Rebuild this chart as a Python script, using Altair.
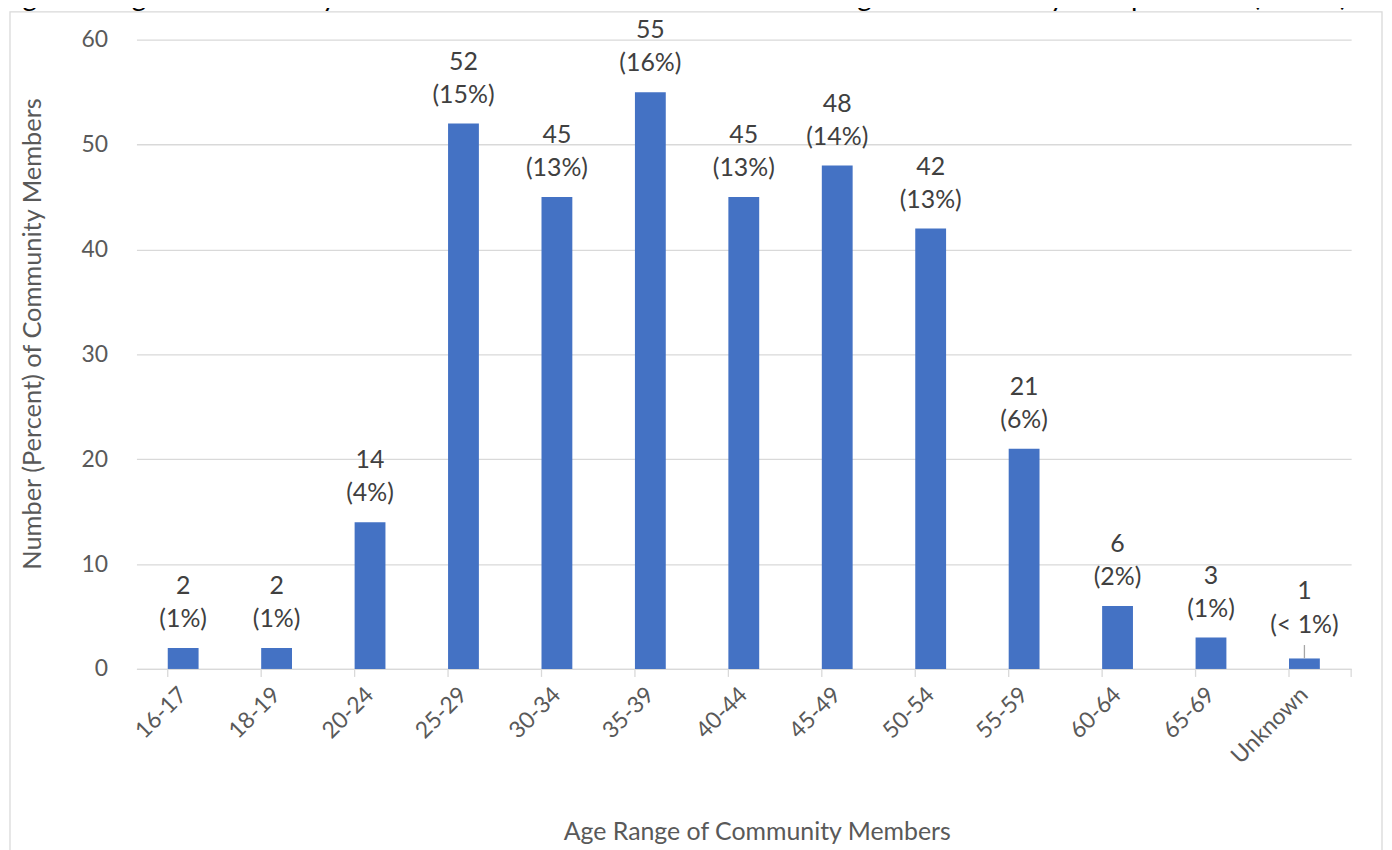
import altair as alt
import pandas as pd

categories = ["16-17", "18-19", "20-24", "25-29", "30-34", "35-39", "40-44",
              "45-49", "50-54", "55-59", "60-64", "65-69", "Unknown"]
counts = [2, 2, 14, 52, 45, 55, 45, 48, 42, 21, 6, 3, 1]
percents = ["(1%)", "(1%)", "(4%)", "(15%)", "(13%)", "(16%)", "(13%)",
            "(14%)", "(13%)", "(6%)", "(2%)", "(1%)", "(< 1%)"]
y_ticks = [0, 10, 20, 30, 40, 50, 60]
title_text = ("Figure 2. Age of community members who visited the BSCS OCS "
              "during the first 60 days of operations (n=336)")

df = pd.DataFrame({"age": categories, "count": counts, "pct": percents})

FONT = "Lato"
W, H = 1220, 632
LABEL_C = "#595959"
VAL_C = "#404040"
GRID_C = "#D9D9D9"

x_scale = alt.Scale(domain=categories, paddingInner=0.67, paddingOuter=0.335)
y_scale = alt.Scale(domain=[0, 60], nice=False)

base = alt.Chart(df)
X = alt.X("age:N", scale=x_scale, sort=categories)
Y = alt.Y("count:Q", scale=y_scale)

bars = base.mark_bar(color="#4472C4").encode(
    x=alt.X("age:N", scale=x_scale, sort=categories,
            axis=alt.Axis(title="Age Range of Community Members",
                          labelAngle=-45, labelAlign="right", labelBaseline="middle",
                          labelPadding=22, labelFontSize=23, labelColor=LABEL_C,
                          labelFont=FONT, ticks=False, domain=True, domainColor=GRID_C,
                          domainWidth=1.3, grid=False,
                          titleFont=FONT, titleFontSize=25, titleColor=LABEL_C,
                          titleFontWeight="normal", titleX=623, titleY=171,
                          titleBaseline="alphabetic", titleAlign="center")),
    y=alt.Y("count:Q", scale=y_scale,
            axis=alt.Axis(title="Number (Percent) of Community Members",
                          values=y_ticks, labelFontSize=23, labelColor=LABEL_C,
                          labelFont=FONT, labelPadding=29, ticks=False, domain=False,
                          grid=True, gridColor=GRID_C, gridWidth=1.3,
                          titleFont=FONT, titleFontSize=25.5, titleColor=LABEL_C,
                          titleFontWeight="normal", titleX=-104, titleY=295,
                          titleAngle=-90, titleBaseline="middle", titleAlign="center")),
)

ticks = base.mark_rule(color=GRID_C, strokeWidth=1.3).encode(
    x=alt.X("age:N", scale=x_scale, sort=categories, bandPosition=0),
    y=alt.value(H), y2=alt.value(H + 8),
)

last_tick = base.transform_filter(alt.datum.age == "Unknown").mark_rule(
    color=GRID_C, strokeWidth=1.3
).encode(x=alt.value(W), y=alt.value(H), y2=alt.value(H + 8))

normal = base.transform_filter(alt.datum.age != "Unknown")
unknown = base.transform_filter(alt.datum.age == "Unknown")

pct_labels = normal.mark_text(font=FONT, fontSize=25, color=VAL_C,
                              baseline="alphabetic", dy=-21).encode(x=X, y=Y, text="pct:N")
cnt_labels = normal.mark_text(font=FONT, fontSize=25, color=VAL_C,
                              baseline="alphabetic", dy=-54).encode(x=X, y=Y, text="count:Q")

unk_pct = unknown.mark_text(font=FONT, fontSize=25, color=VAL_C,
                            baseline="alphabetic", dy=-26).encode(x=X, y=Y, text="pct:N")
unk_cnt = unknown.mark_text(font=FONT, fontSize=25, color=VAL_C,
                            baseline="alphabetic", dy=-60).encode(x=X, y=Y, text="count:Q")

leader = unknown.transform_calculate(top="datum.count + 1.28").mark_rule(
    color="#A6A6A6", strokeWidth=1.3
).encode(x=X, y=Y, y2="top:Q")

frame = unknown.mark_rect(fill=None, stroke=GRID_C, strokeWidth=1.3).encode(
    x=alt.value(-127), x2=alt.value(1251), y=alt.value(-28), y2=alt.value(H + 200)
)

title = unknown.transform_calculate(t=f"'{title_text}'").mark_text(
    font=FONT, fontSize=28, color="#000000", align="left", baseline="alphabetic"
).encode(x=alt.value(-137), y=alt.value(-34), text="t:N")

chart = alt.layer(
    frame, bars, ticks, last_tick, leader, pct_labels, cnt_labels, unk_pct, unk_cnt, title
).properties(
    width=W, height=H,
    autosize=alt.AutoSizeParams(type="none"),
    padding={"left": 129, "top": 30, "right": 33, "bottom": 180},
).configure_view(stroke=None)

chart.save("out.html", embed_options={"renderer": "svg", "actions": False})
